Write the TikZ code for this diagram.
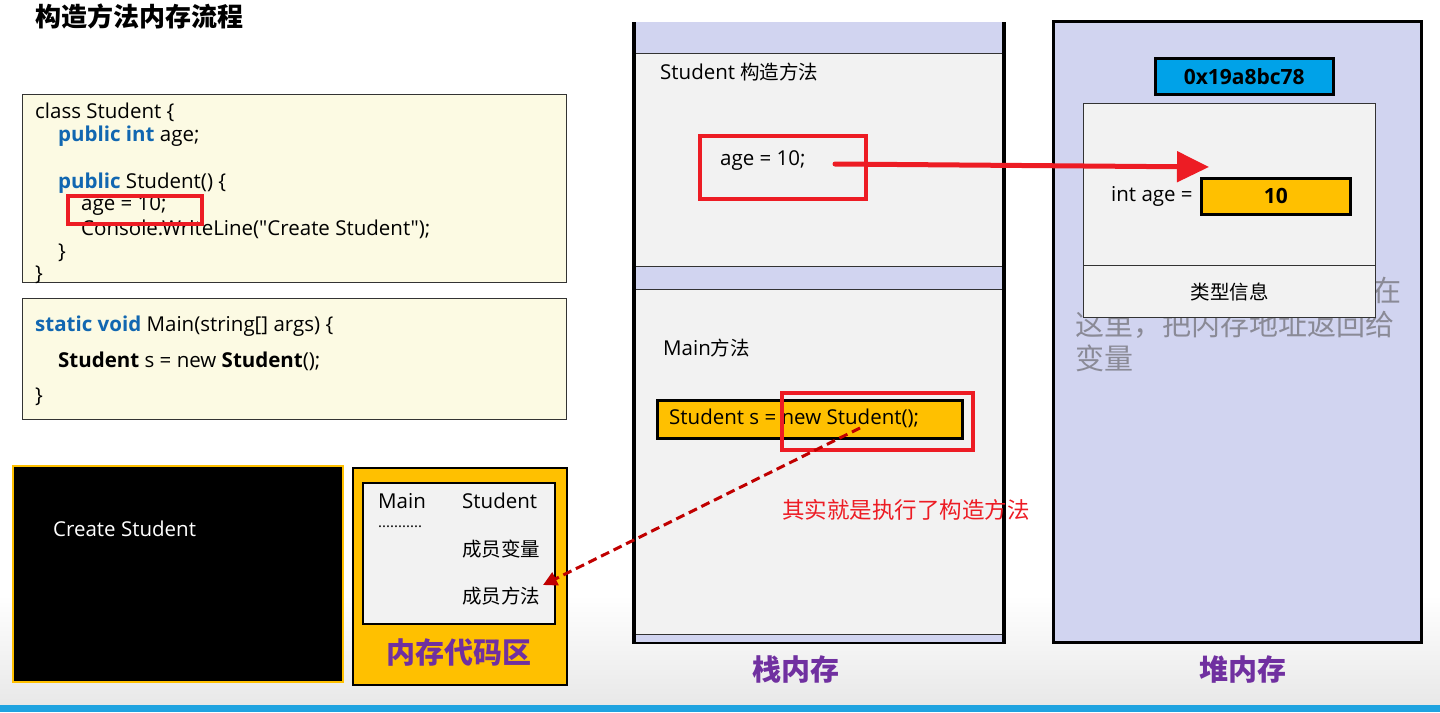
\documentclass[tikz,border=0pt]{standalone}
\usepackage{fontspec}
\setmainfont{Open Sans}[Ligatures=TeXOff]
\newfontfamily\cjk{Noto Sans CJK SC}
\usetikzlibrary{arrows.meta}
\definecolor{codebg}{HTML}{FCFAE3}
\definecolor{panel}{HTML}{F2F2F2}
\definecolor{lav}{HTML}{D1D4F0}
\definecolor{gold}{HTML}{FFC000}
\definecolor{addrblue}{HTML}{00A2E8}
\definecolor{hired}{HTML}{ED1C24}
\definecolor{dkred}{HTML}{C00000}
\definecolor{purp}{HTML}{7030A0}
\definecolor{kw}{HTML}{1167B1}
\definecolor{fadegray}{HTML}{8A8A96}
\definecolor{baseblue}{HTML}{1FA3E0}
\begin{document}
\begin{tikzpicture}[x=1pt,y=-1pt,
  txt/.style={inner sep=0pt,anchor=west,font=\fontsize{20.5}{24}\selectfont},
  cjktxt/.style={inner sep=0pt,anchor=west,font=\cjk\fontsize{19.5}{23}\selectfont},
  codebox/.style={draw=black!80,line width=1.3pt,fill=codebg,anchor=north west,inner sep=0pt},
  redbox/.style={draw=hired,line width=3.5pt,anchor=north west,inner sep=0pt},
  goldbox/.style={draw=black,line width=2.5pt,fill=gold,anchor=north west,inner sep=0pt},
  biglabel/.style={inner sep=0pt,font=\cjk\fontsize{29}{32}\selectfont\bfseries,text=purp},
  fade/.style={inner sep=0pt,anchor=west,font=\cjk\fontsize{29}{32}\selectfont,text=fadegray}]
\useasboundingbox (0,0) rectangle (1440,712);
\fill[white] (0,0) rectangle (1440,712);
\shade[top color=white,bottom color=black!9] (0,595) rectangle (1440,705);
\fill[baseblue] (0,705) rectangle (1440,712);

% title
\node[inner sep=0pt,anchor=west,font=\cjk\fontsize{26}{28}\selectfont\bfseries] (title) at (35,16) {构造方法内存流程};

% code box 1
\node[codebox,minimum width=544pt,minimum height=188pt] (code1) at (22,94) {};
\node[txt] (c1a) at (35,112) {class Student \{};
\node[txt] (c1b) at (58,136) {\textcolor{kw}{\bfseries public int} age;};
\node[txt] (c1c) at (58,183) {\textcolor{kw}{\bfseries public} Student() \{};
\node[txt] (c1d) at (81,206) {age = 10;};
\node[txt] (c1e) at (81,229) {Console.WriteLine("Create Student");};
\node[txt] (c1f) at (58,253) {\}};
\node[txt] (c1g) at (35,275) {\}};
\node[redbox,minimum width=134pt,minimum height=28pt] (r1) at (66,194) {};

% code box 2
\node[codebox,minimum width=544pt,minimum height=121pt] (code2) at (22,298) {};
\node[txt] (c2a) at (35,326) {\textcolor{kw}{\bfseries static void} Main(string[] args) \{};
\node[txt] (c2b) at (58,361) {\textbf{Student} s = new \textbf{Student}();};
\node[txt] (c2c) at (35,397) {\}};

% console
\node[draw=gold,line width=2pt,fill=black,anchor=north west,inner sep=0pt,minimum width=330pt,minimum height=216pt] (console) at (12,465) {};
\node[txt,text=white] (ctext) at (53,529) {Create Student};

% code area
\node[draw=black,line width=1.5pt,fill=gold,anchor=north west,inner sep=0pt,minimum width=214pt,minimum height=217pt] (codearea) at (352,467) {};
\node[draw=black,line width=1.5pt,fill=panel,anchor=north west,inner sep=0pt,minimum width=192pt,minimum height=141pt] (codeinner) at (362,482) {};
\node[txt] (camain) at (378,501) {Main};
\node[txt] (castu) at (462,501) {Student};
\node[txt,font=\fontsize{15}{16}\selectfont] (cadots) at (378,527) {...........};
\node[cjktxt] (cavar) at (462,549) {成员变量};
\node[cjktxt] (cameth) at (462,596) {成员方法};
\node[biglabel] (calabel) at (459,652) {内存代码区};

% stack
\fill[panel] (634,22) rectangle (1004,642);
\fill[lav] (634,22) rectangle (1004,53);
\fill[lav] (634,266) rectangle (1004,289);
\fill[lav] (634,634) rectangle (1004,642);
\draw[black!80,line width=1pt] (634,53) -- (1004,53) (634,266) -- (1004,266) (634,289) -- (1004,289) (634,634) -- (1004,634);
\draw[black,line width=4pt] (634,22) -- (634,644) (1004,22) -- (1004,644);
\draw[black,line width=2pt] (632,643) -- (1006,643);
\node[txt] (sctor) at (660,72) {Student {\cjk\fontsize{19.5}{23}\selectfont 构造方法}};
\node[redbox,minimum width=166pt,minimum height=63pt] (r2) at (698,134) {};
\node[txt] (sage) at (720,161) {age = 10;};
\node[txt] (smain) at (663,348) {Main{\cjk\fontsize{19.5}{23}\selectfont 方法}};
\node[goldbox,minimum width=305pt,minimum height=38pt] (sline) at (656,399) {};
\node[txt] (slinet) at (669,418) {Student s = new Student();};
\node[redbox,minimum width=191pt,minimum height=57pt] (r3) at (780,391) {};
\node[inner sep=0pt,anchor=west,font=\cjk\fontsize{22.5}{24}\selectfont,text=hired] (note) at (782,510) {其实就是执行了构造方法};
\node[biglabel] (stacklabel) at (796,669) {栈内存};

% heap
\node[draw=black,line width=3pt,fill=lav,anchor=north west,inner sep=0pt,minimum width=368pt,minimum height=621pt] (heap) at (1052,20) {};
\node[fade] (f1) at (1372,290) {在};
\node[fade] (f2) at (1075,325) {这里，把内存地址返回给};
\node[fade] (f3) at (1075,358) {变量};
\node[draw=black,line width=2.5pt,fill=addrblue,anchor=north west,inner sep=0pt,minimum width=178pt,minimum height=36pt,font=\fontsize{21}{23}\selectfont\bfseries] (addr) at (1154,57) {0x19a8bc78};
\node[draw=black!80,line width=1.3pt,fill=panel,anchor=north west,inner sep=0pt,minimum width=292pt,minimum height=162pt] (obj) at (1083,103) {};
\node[draw=black!80,line width=1.3pt,fill=panel,anchor=north west,inner sep=0pt,minimum width=292pt,minimum height=52pt,font=\cjk\fontsize{19.5}{22}\selectfont] (typeinfo) at (1083,265) {类型信息};
\node[txt] (intage) at (1111,196) {int age =};
\node[goldbox,minimum width=149pt,minimum height=36pt,font=\fontsize{21}{23}\selectfont\bfseries] (val) at (1200,177) {10};
\node[biglabel] (heaplabel) at (1243,669) {堆内存};

% connectors
\coordinate (ageout) at (835,164);
\coordinate (agein) at (1209,167);
\draw[hired,line width=5pt,line cap=round,-{Triangle[length=32pt,width=30pt]}] (ageout) -- (agein);
\coordinate (newpt) at (860,428);
\coordinate (methpt) at (543,585);
\draw[dkred,line width=3pt,dash pattern=on 9pt off 5pt,-{Triangle[length=14pt,width=14pt]}] (newpt) -- (methpt);
\end{tikzpicture}
\end{document}
